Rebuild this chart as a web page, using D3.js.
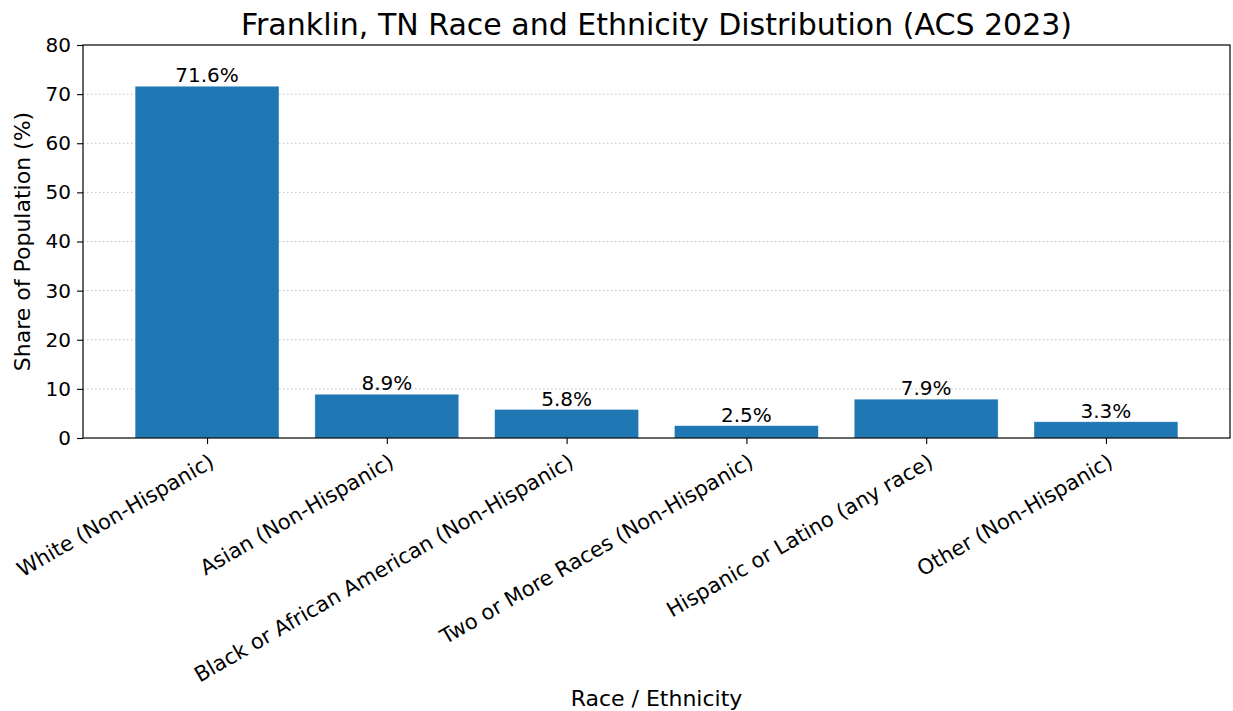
<!DOCTYPE html>
<html lang="en">
<head>
<meta charset="UTF-8"/>
<title>Franklin, TN Race and Ethnicity Distribution</title>
<script src="https://d3js.org/d3.v7.min.js"></script>
<style type="text/css">
  body { margin: 0; background: #fff; }
  svg text { font-family: "DejaVu Sans", sans-serif; fill: #000; }
  .grid line { stroke: #b0b0b0; stroke-dasharray: 1.5, 2.5; stroke-width: 0.8; }
  .bar { fill: #1f77b4; stroke: #fff; stroke-opacity: 0.5; stroke-width: 0.6; }
</style>
</head>
<body>
<script>

// data
var categories = ["White (Non-Hispanic)", "Asian (Non-Hispanic)", "Black or African American (Non-Hispanic)",
                  "Two or More Races (Non-Hispanic)", "Hispanic or Latino (any race)", "Other (Non-Hispanic)"];
var shares = [71.6, 8.9, 5.8, 2.5, 7.9, 3.3];
var yTicks = [0, 10, 20, 30, 40, 50, 60, 70, 80];

var W = 1233, H = 711;
var margin = {top: 45, right: 3, bottom: 273, left: 83},
    width = W - margin.left - margin.right,
    height = H - margin.top - margin.bottom;

var svg = d3.select("body").append("svg")
    .attr("width", W)
    .attr("height", H);

var g = svg.append("g")
    .attr("transform", "translate(" + margin.left + "," + margin.top + ")");

// bar centres at 0..5, bars 0.8 wide, 5% padding each side
var idx = categories.map(function(d, i) { return i; });
var x = d3.scaleLinear().domain([-0.69, categories.length - 1 + 0.69]).range([0, width]);
var y = d3.scaleLinear().domain([0, 80]).range([height, 0]);

// grid
g.append("g").attr("class", "grid")
  .selectAll("line").data(yTicks.slice(1, -1)).enter().append("line")
    .attr("x1", 0).attr("x2", width)
    .attr("y1", function(d) { return y(d); })
    .attr("y2", function(d) { return y(d); });

// bars
g.selectAll(".bar").data(shares).enter().append("rect")
    .attr("class", "bar")
    .attr("x", function(d, i) { return x(i - 0.4); })
    .attr("width", x(0.4) - x(-0.4))
    .attr("y", function(d) { return y(d); })
    .attr("height", function(d) { return height - y(d); });

// value labels
g.selectAll(".val").data(shares).enter().append("text")
    .attr("class", "val")
    .attr("x", function(d, i) { return x(i); })
    .attr("y", function(d) { return y(d) - 4; })
    .attr("text-anchor", "middle")
    .style("font-size", "20px")
    .text(function(d) { return d.toFixed(1) + "%"; });

// frame
g.append("rect")
    .attr("width", width).attr("height", height)
    .attr("fill", "none").attr("stroke", "#000").attr("stroke-width", 1.2);

// y axis
var yAxis = g.append("g")
    .call(d3.axisLeft(y).tickValues(yTicks).tickSize(6).tickPadding(6));
yAxis.select(".domain").remove();
yAxis.selectAll("line").attr("stroke", "#000").attr("stroke-width", 1.1);
yAxis.selectAll("text").style("font-size", "20px").style("font-family", "DejaVu Sans");

// x axis, labels rotated 30deg, right-aligned to the tick
var xAxis = g.append("g")
    .attr("transform", "translate(0," + height + ")")
    .call(d3.axisBottom(x).tickValues(idx).tickFormat(function(i) { return categories[i]; })
          .tickSize(6).tickPadding(5));
xAxis.select(".domain").remove();
xAxis.selectAll("line").attr("stroke", "#000").attr("stroke-width", 1.1);
xAxis.selectAll("text")
    .style("font-size", "21px").style("font-family", "DejaVu Sans")
    .attr("text-anchor", "end")
    .attr("x", 0).attr("y", 0).attr("dy", 0)
    .attr("transform", "translate(8,28) rotate(-30)");

// title and axis labels
svg.append("text")
    .attr("x", margin.left + width / 2).attr("y", 35)
    .attr("text-anchor", "middle")
    .style("font-size", "30px")
    .text("Franklin, TN Race and Ethnicity Distribution (ACS 2023)");

svg.append("text")
    .attr("x", margin.left + width / 2).attr("y", 706)
    .attr("text-anchor", "middle")
    .style("font-size", "22px")
    .text("Race / Ethnicity");

svg.append("text")
    .attr("transform", "translate(30," + (margin.top + height / 2) + ") rotate(-90)")
    .attr("text-anchor", "middle")
    .style("font-size", "22px")
    .text("Share of Population (%)");

</script>
</body>
</html>
